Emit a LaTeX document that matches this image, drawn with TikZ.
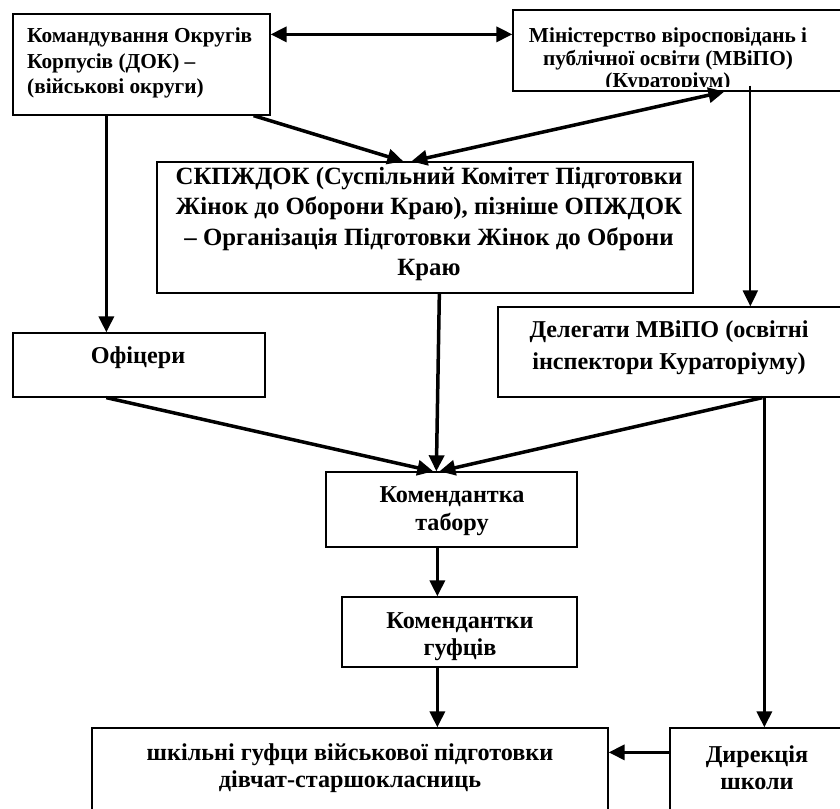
\documentclass[tikz,border=0pt]{standalone}
\usepackage{fontspec}
\setmainfont{Liberation Serif}
\usetikzlibrary{arrows.meta,calc}
\begin{document}
\begin{tikzpicture}[x=1pt,y=-1pt,
  box/.style={draw, line width=1.3pt, fill=white, inner sep=0pt, rectangle},
  bigtxt/.style={font=\fontsize{24.2}{30}\selectfont\bfseries, align=center, inner sep=0pt},
  smalltxt/.style={font=\fontsize{21.3}{25.5}\selectfont\bfseries, inner sep=0pt},
  arr/.style={line width=3.5pt, -{Triangle[length=16pt,width=15pt]}},
  thinarr/.style={line width=2.2pt, -{Triangle[length=16pt,width=15pt]}},
  dblarr/.style={line width=3.5pt, {Triangle[length=16pt,width=15pt]}-{Triangle[length=16pt,width=15pt]}}
]
\useasboundingbox (0,0) rectangle (840,808);
\fill[white] (0,0) rectangle (840,808);

% boxes
\node[box, minimum width=257pt, minimum height=101pt] (dok) at (141.5,64.5) {};
\node[box, minimum width=332pt, minimum height=81pt] (mvipo) at (679,50.5) {};
\node[box, minimum width=536pt, minimum height=131pt] (skp) at (425,227.5) {};
\node[box, minimum width=252pt, minimum height=64pt] (off) at (139,365) {};
\node[box, minimum width=347pt, minimum height=90pt] (deleg) at (671.5,352) {};
\node[box, minimum width=251pt, minimum height=75pt] (kt) at (451.5,509.5) {};
\node[box, minimum width=235pt, minimum height=70pt] (kg) at (459.5,632) {};
\node[box, minimum width=516pt, minimum height=87pt] (bot) at (350,771.5) {};
\node[box, minimum width=175pt, minimum height=87pt] (dir) at (757.5,771.5) {};

% texts
\node[smalltxt, align=left, anchor=west] (doktext) at (27,63) {Командування Округів\\Корпусів (ДОК) –\\(військові округи)};
\begin{scope}
  \clip (513,10) rectangle (845,86);
  \node[smalltxt, align=center, font=\fontsize{21.3}{22.5}\selectfont\bfseries] (mvtext) at (668,60) {Міністерство віросповідань і\\публічної освіти (МВіПО)\\(Кураторіум)};
\end{scope}
\node[bigtxt, font=\fontsize{24.8}{30.5}\selectfont\bfseries] (skptext) at (429,224) {СКПЖДОК (Суспільний Комітет Підготовки\\Жінок до Оборони Краю), пізніше ОПЖДОК\\– Організація Підготовки Жінок до Оброни\\Краю};
\node[bigtxt] (offtext) at (138,358) {Офіцери};
\node[bigtxt, font=\fontsize{24.2}{32}\selectfont\bfseries] (delegtext) at (669,348) {Делегати МВіПО (освітні\\інспектори Кураторіуму)};
\node[bigtxt, font=\fontsize{24.2}{28}\selectfont\bfseries] (kttext) at (452,511) {Комендантка\\табору};
\node[bigtxt, font=\fontsize{24.2}{27}\selectfont\bfseries] (kgtext) at (460,637) {Комендантки\\гуфців};
\node[bigtxt, font=\fontsize{24.2}{27}\selectfont\bfseries] (bottext) at (350,768) {шкільні гуфци військової підготовки\\дівчат-старшокласниць};
\node[bigtxt, font=\fontsize{24.2}{27}\selectfont\bfseries] (dirtext) at (757,768) {Дирекція\\школи};

% connectors
\draw[dblarr] ([yshift=-21pt]dok.north east) -- ([yshift=-25pt]mvipo.north west);
\draw[arr] ([xshift=94pt]dok.south west) -- ([xshift=94pt]off.north west);
\draw[arr] ([xshift=-17pt]dok.south east) -- ([xshift=247pt]skp.north west);
\draw[dblarr] ([xshift=255pt]skp.north west) -- ([xshift=212pt]mvipo.south west);
\draw[thinarr] ([xshift=238pt,yshift=6pt]mvipo.south west) -- ([xshift=253pt]deleg.north west);
\draw[arr] ([xshift=283pt]skp.south west) -- ([xshift=111pt]kt.north west);
\draw[arr] ([xshift=94pt]off.south west) -- ([xshift=108pt]kt.north west);
\draw[arr] ([xshift=265pt]deleg.south west) -- ([xshift=114pt]kt.north west);
\draw[arr] ([xshift=267pt]deleg.south west) -- ([xshift=95pt]dir.north west);
\draw[arr] ([xshift=112pt]kt.south west) -- ([xshift=96pt]kg.north west);
\draw[arr] ([xshift=96pt]kg.south west) -- ([xshift=346pt]bot.north west);
\draw[arr] ([yshift=-25pt]dir.north west) -- ([yshift=-25pt]bot.north east);
\end{tikzpicture}
\end{document}
